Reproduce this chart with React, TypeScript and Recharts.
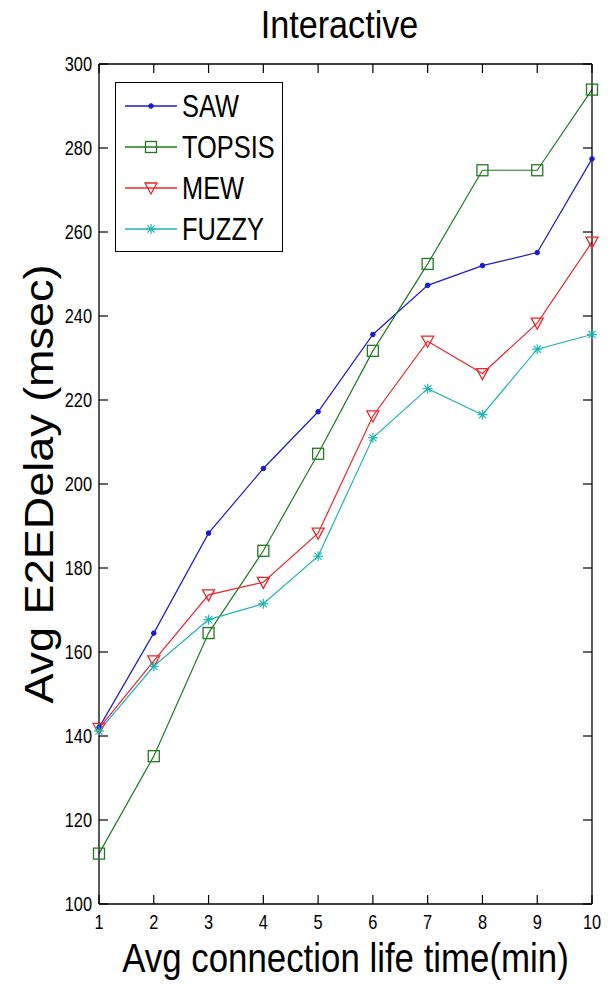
import React from 'react';
import { LineChart, Line, XAxis, YAxis, Legend } from 'recharts';

const X_VALUES = [1, 2, 3, 4, 5, 6, 7, 8, 9, 10];
const Y_TICKS = [100, 120, 140, 160, 180, 200, 220, 240, 260, 280, 300];

const SAW = [142, 164.5, 188.3, 203.7, 217.2, 235.6, 247.3, 252, 255.1, 277.4];
const TOPSIS = [112, 135.2, 164.5, 184.1, 207.2, 231.7, 252.4, 274.7, 274.7, 293.9];
const MEW = [141.8, 157.9, 173.6, 176.6, 188.3, 216.2, 234, 226.3, 238.3, 257.6];
const FUZZY = [141.2, 156.6, 167.7, 171.5, 182.8, 211, 222.7, 216.5, 232.1, 235.6];

const SERIES = [
  { name: 'SAW', values: SAW, color: '#1a1ad0', shape: 'dot' },
  { name: 'TOPSIS', values: TOPSIS, color: '#1f7a1f', shape: 'square' },
  { name: 'MEW', values: MEW, color: '#e8262b', shape: 'triangle' },
  { name: 'FUZZY', values: FUZZY, color: '#1fb3b3', shape: 'star' },
];

const TITLE = 'Interactive';
const X_LABEL = 'Avg connection life time(min)';
const Y_LABEL = 'Avg E2EDelay (msec)';

const data = X_VALUES.map((x, i) => {
  const row: Record<string, number> = { x };
  SERIES.forEach(s => { row[s.name] = s.values[i]; });
  return row;
});

const SANS = "'Liberation Sans', Arial, sans-serif";
const SQUEEZE = 0.82; // the source image is squashed sideways
const TICK_LEN = 9;

// horizontally squeezed text, anchored at (x, y)
const NarrowText = ({ x, y, size, anchor = 'start', dy, children, sx = SQUEEZE }: any) => (
  <text transform={`translate(${x}, ${y}) scale(${sx}, 1)`} x={0} y={0} dy={dy} textAnchor={anchor}
    fontSize={size} fontFamily={SANS} fill="#000">{children}</text>
);

const Marker = ({ shape, cx, cy, color }: { shape: string; cx: number; cy: number; color: string }) => {
  if (cx == null || cy == null) return null;
  if (shape === 'dot') return <circle cx={cx} cy={cy} r={2.3} fill={color} stroke={color} />;
  if (shape === 'square')
    return <rect x={cx - 5.5} y={cy - 5.5} width={11} height={11} fill="none" stroke={color} strokeWidth={1.3} />;
  if (shape === 'triangle')
    return <polygon points={`${cx - 6},${cy - 5} ${cx + 6},${cy - 5} ${cx},${cy + 6}`} fill="none" stroke={color} strokeWidth={1.3} />;
  const r = 5;
  const d = 3.6;
  return (
    <g stroke={color} strokeWidth={1.2}>
      <line x1={cx - r} y1={cy} x2={cx + r} y2={cy} />
      <line x1={cx} y1={cy - r} x2={cx} y2={cy + r} />
      <line x1={cx - d} y1={cy - d} x2={cx + d} y2={cy + d} />
      <line x1={cx - d} y1={cy + d} x2={cx + d} y2={cy - d} />
    </g>
  );
};

// inward MATLAB-style ticks
const BottomTick = ({ x, y, payload }: any) => (
  <g>
    <line x1={x} x2={x} y1={y} y2={y - TICK_LEN} stroke="#000" strokeWidth={1.2} />
    <NarrowText x={x} y={y + 25} size={20} anchor="middle">{payload.value}</NarrowText>
  </g>
);
const TopTick = ({ x, y }: any) => <line x1={x} x2={x} y1={y} y2={y + TICK_LEN} stroke="#000" strokeWidth={1.2} />;
const LeftTick = ({ x, y, payload }: any) => (
  <g>
    <line x1={x} x2={x + TICK_LEN} y1={y} y2={y} stroke="#000" strokeWidth={1.2} />
    <NarrowText x={x - 7} y={y} dy="0.35em" size={20} anchor="end">{payload.value}</NarrowText>
  </g>
);
const RightTick = ({ x, y }: any) => <line x1={x} x2={x - TICK_LEN} y1={y} y2={y} stroke="#000" strokeWidth={1.2} />;

const renderLegend = () => (
  <div style={{ width: 168, height: 170, border: '1px solid #000', background: '#fff', boxSizing: 'border-box' }}>
    <svg width={166} height={168}>
      {SERIES.map((s, i) => {
        const y = 23 + i * 41;
        return (
          <g key={s.name}>
            <line x1={9} x2={61} y1={y} y2={y} stroke={s.color} strokeWidth={1.3} />
            <Marker shape={s.shape} cx={35} cy={y} color={s.color} />
            <NarrowText x={66} y={y} dy="0.36em" size={31}>{s.name}</NarrowText>
          </g>
        );
      })}
    </svg>
  </div>
);

export default function App() {
  return (
    <div style={{ position: 'absolute', left: 0, top: 0, width: 614, height: 984, background: '#fff' }}>
      <LineChart width={614} height={984} data={data} margin={{ top: 54, right: 12, bottom: 50, left: 39 }}>
        <XAxis
          dataKey="x"
          type="number"
          domain={[1, 10]}
          ticks={X_VALUES}
          interval={0}
          height={30}
          tickSize={0}
          tickMargin={0}
          tick={BottomTick}
          axisLine={{ stroke: '#000', strokeWidth: 1.3 }}
          label={{
            content: ({ viewBox }: any) => (
              <NarrowText x={viewBox.x + viewBox.width / 2} y={viewBox.y + 68} size={41} anchor="middle" sx={0.85}>
                {X_LABEL}
              </NarrowText>
            ),
          }}
        />
        <XAxis
          xAxisId="top"
          orientation="top"
          dataKey="x"
          type="number"
          domain={[1, 10]}
          allowDataOverflow
          ticks={X_VALUES}
          interval={0}
          height={10}
          tickSize={0}
          tickMargin={0}
          tick={TopTick}
          axisLine={{ stroke: '#000', strokeWidth: 1.3 }}
          label={{
            content: ({ viewBox }: any) => (
              <NarrowText x={viewBox.x + viewBox.width / 2 - 6} y={viewBox.y - 16} size={38} anchor="middle" sx={0.9}>
                {TITLE}
              </NarrowText>
            ),
          }}
        />
        <YAxis
          type="number"
          domain={[100, 300]}
          ticks={Y_TICKS}
          interval={0}
          width={60}
          tickSize={0}
          tickMargin={0}
          tick={LeftTick}
          axisLine={{ stroke: '#000', strokeWidth: 1.3 }}
          label={{
            content: ({ viewBox }: any) => {
              const cy = viewBox.y + viewBox.height / 2;
              return (
                <text transform={`translate(53, ${cy}) rotate(-90) scale(1, 0.92)`} x={0} y={0} textAnchor="middle"
                  fontSize={45} fontFamily={SANS} fill="#000">{Y_LABEL}</text>
              );
            },
          }}
        />
        <YAxis
          yAxisId="right"
          orientation="right"
          type="number"
          domain={[100, 300]}
          allowDataOverflow
          ticks={Y_TICKS}
          interval={0}
          width={10}
          tickSize={0}
          tickMargin={0}
          tick={RightTick}
          axisLine={{ stroke: '#000', strokeWidth: 1.3 }}
        />
        <Legend
          layout="horizontal"
          verticalAlign="middle"
          align="center"
          content={renderLegend}
          wrapperStyle={{ left: 115, top: 82, width: 168, height: 170 }}
        />
        {SERIES.map(s => (
          <Line
            key={s.name}
            dataKey={s.name}
            stroke={s.color}
            strokeWidth={1.2}
            isAnimationActive={false}
            dot={(p: any) => <Marker key={`${s.name}-${p.index}`} shape={s.shape} cx={p.cx} cy={p.cy} color={s.color} />}
            activeDot={false}
          />
        ))}
      </LineChart>
    </div>
  );
}
